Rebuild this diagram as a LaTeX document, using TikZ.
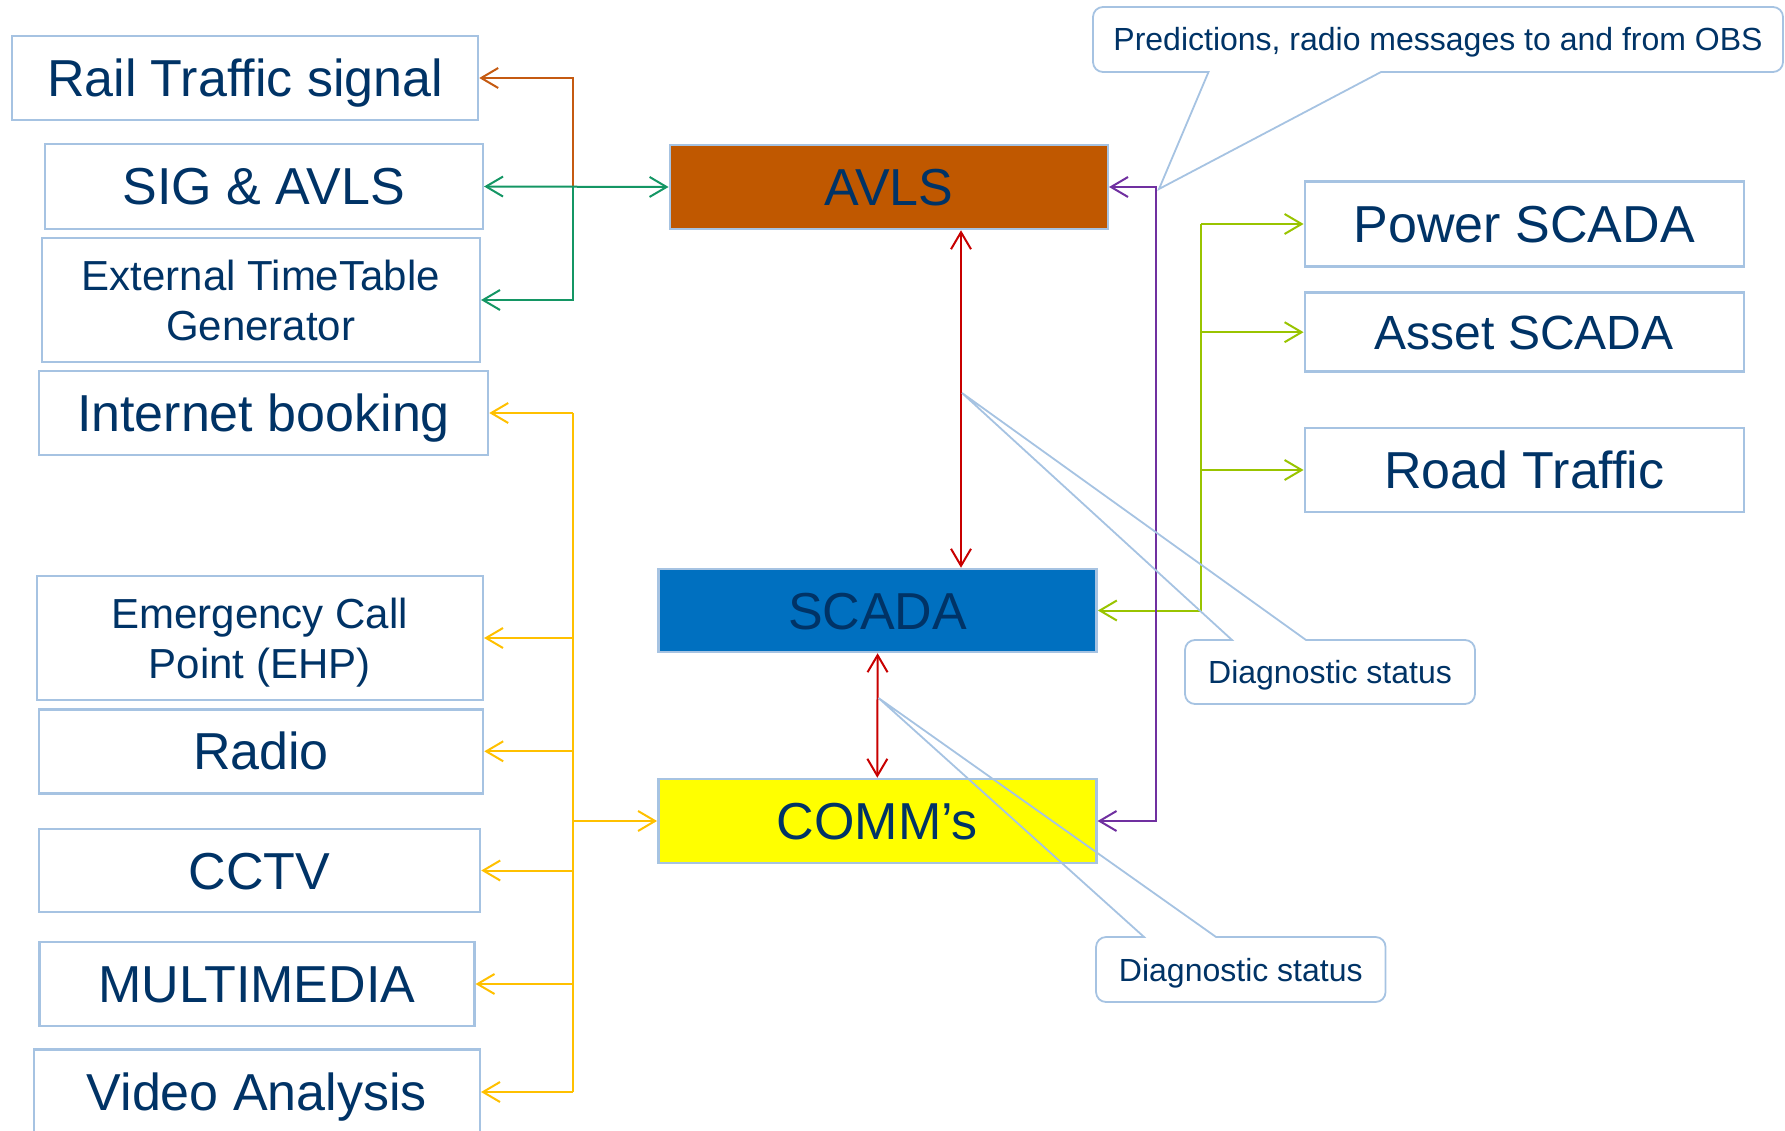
\documentclass[tikz,border=0pt]{standalone}
\usepackage{fontspec}
\setmainfont{Liberation Sans}
\usetikzlibrary{arrows.meta,calc}
\definecolor{diagNavy}{RGB}{0,51,102}
\definecolor{diagFrame}{RGB}{166,195,226}
\definecolor{diagRust}{RGB}{192,88,0}
\definecolor{diagBlue}{RGB}{0,112,192}
\definecolor{diagYellow}{RGB}{255,255,0}
\definecolor{lnOrange}{RGB}{197,90,17}
\definecolor{lnGreen}{RGB}{20,150,100}
\definecolor{lnAmber}{RGB}{255,192,0}
\definecolor{lnLime}{RGB}{153,196,0}
\definecolor{lnPurple}{RGB}{112,48,160}
\definecolor{lnRed}{RGB}{200,0,0}

\newcommand{\boxfont}{\fontsize{52}{62}\selectfont}
\newcommand{\assetfont}{\fontsize{48}{58}\selectfont}
\newcommand{\twofont}{\fontsize{42}{50}\selectfont}
\newcommand{\notefont}{\fontsize{32}{38}\selectfont}

\begin{document}
\begin{tikzpicture}[
  x=1pt, y=-1pt,
  >={Straight Barb[length=17pt,width=20pt]},
  sysbox/.style={draw=diagFrame, line width=2.5pt, fill=white, text=diagNavy,
                 font=\boxfont, inner sep=0pt, text height=37pt, text depth=0pt},
  twobox/.style={draw=diagFrame, line width=2.5pt, fill=white, text=diagNavy,
                 font=\twofont, align=center, inner sep=0pt, text depth=0pt},
  corebox/.style={sysbox, fill=#1},
  note/.style={text=diagNavy, font=\notefont, inner sep=0pt, outer sep=0pt,
               text height=23pt, text depth=0pt},
  callline/.style={draw=diagFrame, line width=1.8pt},
  link/.style={line width=2pt, draw=#1},
]

%% ── page: 1 pt = 1 px of the 1785 x 1131 frame, y grows downwards ──
\path[use as bounding box] (0,0) rectangle (1785,1131);
\clip (0,0) rectangle (1785,1131);

%% ── trunk x positions ───────────────────────────────────
\coordinate (trunkL) at (573,0);     % left bus (orange/green/amber)
\coordinate (trunkP) at (1155.5,0);  % purple return
\coordinate (trunkR) at (1201,0);    % lime bus

%% ── left column ─────────────────────────────────────────
\node[sysbox, minimum width=466pt, minimum height=84pt] (rail) at (245,78) {Rail Traffic signal};
\node[sysbox, minimum width=438pt, minimum height=85pt] (sig) at (263.8,186.5) {SIG \& AVLS};
\node[twobox, minimum width=438pt, minimum height=124pt] (ext) at (260.8,300) {External TimeTable\\Generator};
\node[sysbox, minimum width=449pt, minimum height=84pt] (inet) at (263.5,413) {Internet booking};
\node[twobox, minimum width=446pt, minimum height=124pt] (emer) at (259.8,638) {Emergency Call\\Point (EHP)};
\node[sysbox, minimum width=444pt, minimum height=84pt] (radio) at (261,751.3) {Radio};
\node[sysbox, minimum width=441pt, minimum height=83pt] (cctv) at (259.5,870.5) {CCTV};
\node[sysbox, minimum width=435pt, minimum height=84pt] (multi) at (256.8,984) {MULTIMEDIA};
\node[sysbox, minimum width=446pt, minimum height=85pt] (video) at (256.8,1092) {Video Analysis};

%% ── core systems ────────────────────────────────────────
\node[corebox=diagRust, minimum width=438pt, minimum height=84pt] (avls) at (888.8,187) {AVLS};
\node[corebox=diagBlue, minimum width=438pt, minimum height=83pt] (scada) at (877.6,610.5) {SCADA};
\node[corebox=diagYellow, minimum width=438pt, minimum height=84pt] (comms) at (877.3,821) {COMM’s};

%% ── right column ────────────────────────────────────────
\node[sysbox, minimum width=439pt, minimum height=85pt] (power) at (1524.3,224) {Power SCADA};
\node[sysbox, font=\assetfont, text height=34pt, minimum width=439pt, minimum height=79pt] (asset) at (1524.3,332.2) {Asset SCADA};
\node[sysbox, minimum width=439pt, minimum height=84pt] (road) at (1524.3,470) {Road Traffic};

%% ── AVLS links (orange / green) ─────────────────────────
\draw[link=lnOrange, ->] (sig.east -| trunkL) |- (rail.east);
\draw[link=lnGreen, <->] (sig.east) -- (avls.west);
\draw[link=lnGreen, ->] (sig.east -| trunkL) |- (ext.east);

%% ── COMM's bus (amber) ──────────────────────────────────
\draw[link=lnAmber] (inet.east -| trunkL) -- (video.east -| trunkL);
\foreach \n in {inet,emer,radio,cctv,multi,video}{
  \draw[link=lnAmber, ->] (\n.east -| trunkL) -- (\n.east);
}
\draw[link=lnAmber, ->] (comms.west -| trunkL) -- (comms.west);

%% ── SCADA bus (lime) ────────────────────────────────────
\draw[link=lnLime] (power.west -| trunkR) -- (scada.east -| trunkR);
\foreach \n in {power,asset,road}{
  \draw[link=lnLime, ->] (\n.west -| trunkR) -- (\n.west);
}
\draw[link=lnLime, ->] (scada.east -| trunkR) -- (scada.east);

%% ── AVLS <-> COMM's (purple) ────────────────────────────
\draw[link=lnPurple, <->] (avls.east) -- (avls.east -| trunkP) -- (comms.east -| trunkP) -- (comms.east);

%% ── vertical core links (red) ───────────────────────────
\draw[link=lnRed, <->] ([xshift=72.2pt]avls.south) -- ([xshift=72.2pt]avls.south |- scada.north);
\draw[link=lnRed, <->] (scada.south) -- (comms.north);

%% ── callouts ────────────────────────────────────────────
\node[note, minimum width=690pt, minimum height=65pt] (pred) at (1438,39.5) {Predictions, radio messages to and from OBS};
\node[note, minimum width=290pt, minimum height=64pt] (diagA) at (1330,672) {Diagnostic status};
\node[note, minimum width=289.5pt, minimum height=65pt] (diagB) at (1240.8,969.5) {Diagnostic status};

\coordinate (predtip) at (1159,189);
\coordinate (diagtipA) at (962,393);
\coordinate (diagtipB) at (878.5,698);

\draw[callline] ([xshift=115.5pt]pred.south west) [rounded corners=10pt]
  -- (pred.south west) -- (pred.north west) -- (pred.north east) -- (pred.south east) [sharp corners]
  -- ([xshift=288pt]pred.south west) -- (predtip) -- cycle;
\draw[callline] ([xshift=47pt]diagA.north west) [rounded corners=10pt]
  -- (diagA.north west) -- (diagA.south west) -- (diagA.south east) -- (diagA.north east) [sharp corners]
  -- ([xshift=121pt]diagA.north west) -- (diagtipA) -- cycle;
\draw[callline] ([xshift=48pt]diagB.north west) [rounded corners=10pt]
  -- (diagB.north west) -- (diagB.south west) -- (diagB.south east) -- (diagB.north east) [sharp corners]
  -- ([xshift=120pt]diagB.north west) -- (diagtipB) -- cycle;

\end{tikzpicture}
\end{document}
